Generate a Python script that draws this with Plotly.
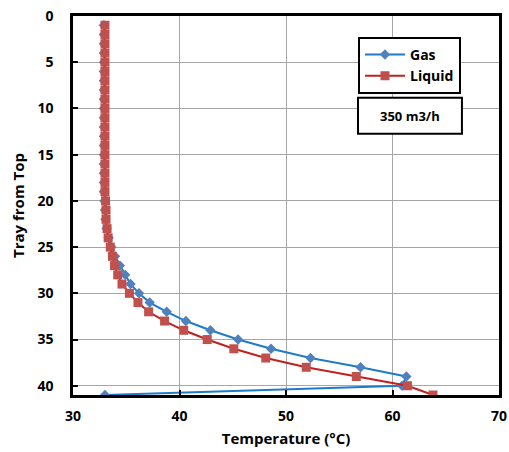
import plotly.graph_objects as go

trays = list(range(1, 42))
gas_temp = [32.9]*19 + [32.95, 33.0, 33.05, 33.15, 33.35, 33.6, 33.95, 34.4, 34.9, 35.4,
            36.2, 37.2, 38.8, 40.6, 42.9, 45.5, 48.6, 52.3, 57.0, 61.3, 60.9, 33.0]
liquid_temp = [33.0]*19 + [33.05, 33.1, 33.1, 33.2, 33.3, 33.5, 33.7, 33.9, 34.2, 34.6,
               35.3, 36.1, 37.1, 38.6, 40.4, 42.6, 45.1, 48.1, 51.9, 56.6, 61.4, 63.8]
x_ticks = [30, 40, 50, 60, 70]
y_ticks = [0, 5, 10, 15, 20, 25, 30, 35, 40]

FONT = "Open Sans"

fig = go.Figure()
fig.add_trace(go.Scatter(
    x=gas_temp, y=trays, name="Gas", mode="lines+markers",
    line=dict(color="#1F7BC8", width=2),
    marker=dict(symbol="diamond", size=8, color="#4F81BD"),
))
fig.add_trace(go.Scatter(
    x=liquid_temp, y=trays, name="Liquid", mode="lines+markers",
    line=dict(color="#C0201E", width=2),
    marker=dict(symbol="square", size=9, color="#C0504D"),
))

fig.update_layout(
    width=509, height=452,
    margin=dict(l=73, r=10, t=16, b=57, autoexpand=False),
    paper_bgcolor="white", plot_bgcolor="white",
    font=dict(family=FONT, color="black"),
    legend=dict(
        x=0.669, y=0.945, xanchor="left", yanchor="top",
        bordercolor="black", borderwidth=2, bgcolor="white",
        font=dict(family=FONT, size=14, color="black", weight="bold"),
        itemwidth=40, tracegroupgap=2,
    ),
    shapes=[dict(type="rect", xref="paper", yref="paper",
                 x0=0.669, x1=0.913, y0=0.689, y1=0.784,
                 line=dict(color="black", width=2), fillcolor="white", layer="above")],
    annotations=[dict(text="<b>350 m3/h</b>", xref="paper", yref="paper",
                      x=0.791, y=0.7365, xanchor="center", yanchor="middle", showarrow=False,
                      font=dict(family=FONT, size=13, color="black"))],
)
fig.update_xaxes(
    range=[30, 70], tickvals=x_ticks, ticks="inside", ticklen=5, tickwidth=2, tickcolor="black",
    showline=True, linecolor="black", linewidth=2.5, mirror=True, automargin=False,
    showgrid=True, gridcolor="#A6A6A6", gridwidth=1, zeroline=False, ticklabelstandoff=6,
    tickfont=dict(family=FONT, size=14, color="black", weight="bold"),
    title=dict(text="<b>Temperature (°C)</b>", font=dict(family=FONT, size=15, color="black"), standoff=10),
)
fig.update_yaxes(
    range=[41, 0], tickvals=y_ticks, ticks="inside", ticklen=5, tickwidth=2, tickcolor="black",
    showline=True, linecolor="black", linewidth=2.5, mirror=True, automargin=False,
    showgrid=True, gridcolor="#A6A6A6", gridwidth=1, zeroline=False, ticklabelstandoff=14,
    tickfont=dict(family=FONT, size=14, color="black", weight="bold"),
    title=dict(text="<b>Tray from Top</b>", font=dict(family=FONT, size=15, color="black"), standoff=10),
)
fig.write_html("out.html", config={"displayModeBar": False},
               post_script="document.body.style.margin='0';document.body.style.overflow='hidden';")
